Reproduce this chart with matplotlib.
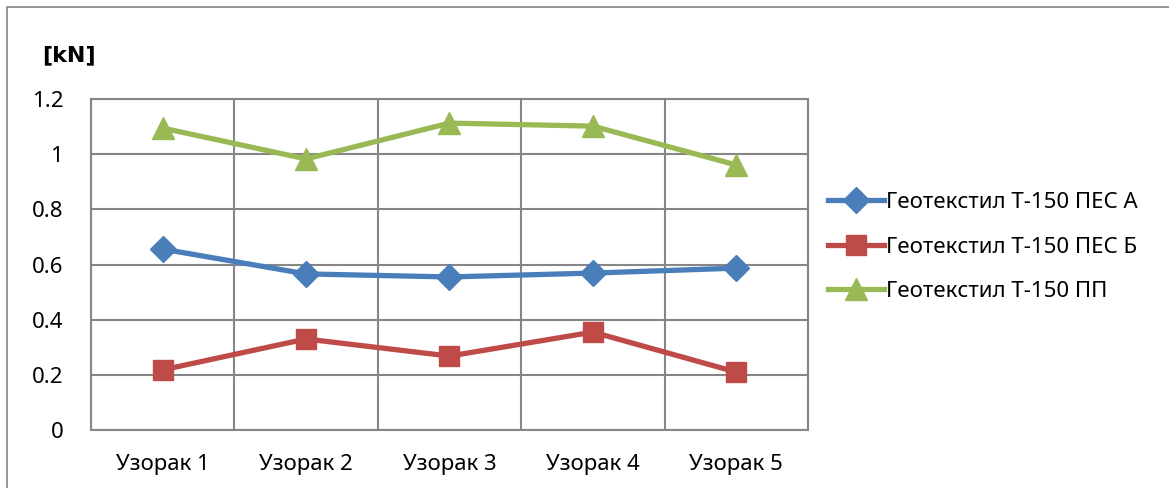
import matplotlib.pyplot as plt
from matplotlib.patches import Rectangle

plt.rcParams['font.family'] = ['Noto Sans', 'DejaVu Sans']

uzorci = ['Узорак 1', 'Узорак 2', 'Узорак 3', 'Узорак 4', 'Узорак 5']
pes_a = [0.656, 0.566, 0.555, 0.569, 0.587]
pes_b = [0.218, 0.330, 0.268, 0.355, 0.210]
pp = [1.095, 0.983, 1.113, 1.102, 0.961]
nazivi = ['Геотекстил Т-150 ПЕС А', 'Геотекстил Т-150 ПЕС Б', 'Геотекстил Т-150 ПП']

fig = plt.figure(figsize=(11.69, 4.88), dpi=100)
ax = fig.add_axes([0.0778, 0.1189, 0.6134, 0.678])

x = range(len(uzorci))
ax.plot(x, pes_a, color='#4A7EBB', lw=3.8, marker='D', ms=13, label=nazivi[0])
ax.plot(x, pes_b, color='#BE4B48', lw=3.8, marker='s', ms=15, label=nazivi[1])
ax.plot(x, pp, color='#98B954', lw=3.8, marker='^', ms=16, label=nazivi[2])

ax.set_xlim(-0.5, 4.5)
ax.set_ylim(0, 1.2)
ax.set_yticks([0, 0.2, 0.4, 0.6, 0.8, 1.0, 1.2])
ax.set_yticklabels(['0', '0.2', '0.4', '0.6', '0.8', '1', '1.2'])
ax.set_xticks(list(x))
ax.set_xticklabels(uzorci)
ax.set_xticks([i + 0.5 for i in range(-1, 5)], minor=True)
ax.grid(True, axis='y', color='#868686', lw=1.5)
ax.grid(True, axis='x', which='minor', color='#868686', lw=1.5)
ax.set_axisbelow(True)
ax.tick_params(axis='both', which='both', length=0, labelsize=16)
ax.tick_params(axis='x', pad=17)
ax.tick_params(axis='y', pad=20)
for s in ax.spines.values():
    s.set_color('#868686')
    s.set_linewidth(1.5)

ax.legend(loc='center left', bbox_to_anchor=(1.0, 0.553), frameon=False,
          fontsize=16, handlelength=2.5, handletextpad=0.1, labelspacing=1.05)

fig.text(0.036, 0.887, '[kN]', fontsize=16, fontweight='bold', va='center',
         family=['DejaVu Sans'])
fig.patches.append(Rectangle((0.006, -0.1), 1.2, 1.086, transform=fig.transFigure,
                             fill=False, ec='#868686', lw=1.2))

plt.savefig('out.png')
